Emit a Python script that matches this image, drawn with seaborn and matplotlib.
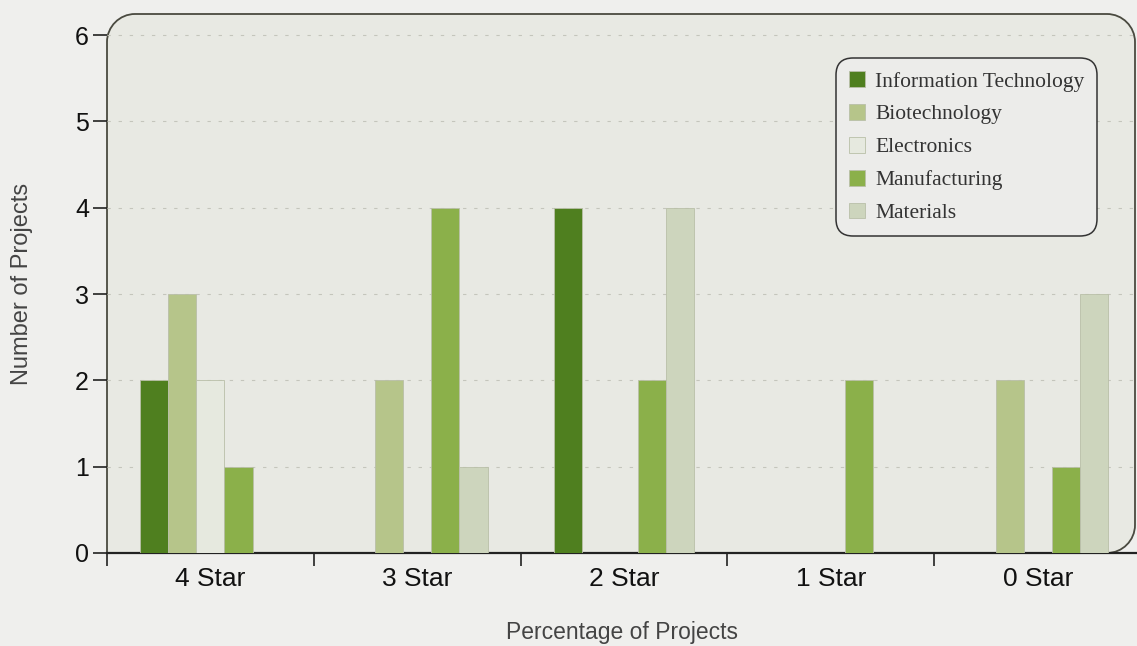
import matplotlib
matplotlib.use("Agg")
import matplotlib.pyplot as plt
from matplotlib.patches import PathPatch
from matplotlib.path import Path
from matplotlib.ticker import FixedLocator
import seaborn as sns
import pandas as pd

categories = ["4 Star", "3 Star", "2 Star", "1 Star", "0 Star"]
series = ["Information Technology", "Biotechnology", "Electronics", "Manufacturing", "Materials"]
it_vals = [2, 0, 4, 0, 0]
bio_vals = [3, 2, 0, 0, 2]
elec_vals = [2, 0, 0, 0, 0]
manu_vals = [1, 4, 2, 2, 1]
mat_vals = [0, 1, 4, 0, 3]
yticks = [0, 1, 2, 3, 4, 5, 6]

colors = ["#4f7f1f", "#b6c58a", "#e6e9df", "#8bb04a", "#cdd5bd"]

rows = []
for name, vals in zip(series, [it_vals, bio_vals, elec_vals, manu_vals, mat_vals]):
    for c, v in zip(categories, vals):
        rows.append({"Category": c, "Series": name, "Value": v})
df = pd.DataFrame(rows)

sns.set_theme(style="white")
plt.rcParams["font.family"] = ["Liberation Sans", "DejaVu Sans"]

W, H = 1137, 646
fig = plt.figure(figsize=(W / 100, H / 100), dpi=100, facecolor="#efefed")
ax = fig.add_axes([107 / W, 1 - 553 / H, 1030 / W, 539 / H])
ax.set_facecolor("none")

# plot-area panel: rounded top-left, top-right, bottom-right; square bottom-left
x0, x1 = 0.0, 1028 / 1030
y0, y1 = 0.0, 1.0
rx, ry = 28 / 1030, 28 / 539
k = 0.45
verts = [
    (x0, y0),
    (x1 - rx, y0),
    (x1 - rx * k, y0), (x1, y0 + ry * k), (x1, y0 + ry),
    (x1, y1 - ry),
    (x1, y1 - ry * k), (x1 - rx * k, y1), (x1 - rx, y1),
    (x0 + rx, y1),
    (x0 + rx * k, y1), (x0, y1 - ry * k), (x0, y1 - ry),
    (x0, y0),
    (x0, y0),
]
codes = [Path.MOVETO, Path.LINETO,
         Path.CURVE4, Path.CURVE4, Path.CURVE4,
         Path.LINETO,
         Path.CURVE4, Path.CURVE4, Path.CURVE4,
         Path.LINETO,
         Path.CURVE4, Path.CURVE4, Path.CURVE4,
         Path.LINETO, Path.CLOSEPOLY]
panel = PathPatch(Path(verts, codes), transform=ax.transAxes, facecolor="#e8e9e3",
                  edgecolor="#4a4a40", linewidth=1.3, zorder=0, clip_on=False)
ax.add_patch(panel)

sns.barplot(data=df, x="Category", y="Value", hue="Series", order=categories,
            hue_order=series, palette=colors, width=0.68, ax=ax,
            edgecolor="#b9bfa8", linewidth=0.6, zorder=3, saturation=1)

ax.set_ylim(0, 6.245)
ax.set_xlim(-0.5, 4.48)
ax.yaxis.set_major_locator(FixedLocator(yticks))
ax.set_yticklabels([str(t) for t in yticks])
ax.grid(axis="y", color="#c4c5bc", linestyle=(0, (3, 7)), linewidth=0.8, zorder=1)
ax.set_axisbelow(True)

ax.xaxis.set_minor_locator(FixedLocator([-0.5, 0.5, 1.5, 2.5, 3.5]))
ax.tick_params(axis="x", which="major", bottom=True, length=0, labelsize=19, pad=10,
               colors="#111111")
ax.tick_params(axis="x", which="minor", bottom=True, length=9, width=1.2, direction="out",
               color="#222222")
ax.tick_params(axis="y", which="major", left=True, length=10, width=1.2, direction="out",
               color="#222222", labelsize=18, pad=3, labelcolor="#111111")

for s in ["top", "right"]:
    ax.spines[s].set_visible(False)
ax.spines["left"].set_visible(False)
ax.spines["bottom"].set_color("#222222")
ax.spines["bottom"].set_linewidth(1.6)

ax.set_xlabel("Percentage of Projects", fontsize=16.5, color="#444444", labelpad=22)
ax.set_ylabel("Number of Projects", fontsize=17, color="#444444", labelpad=30)

leg = ax.legend(loc="upper left", bbox_to_anchor=(0.708, 0.918), frameon=True, fancybox=True,
                prop={"family": ["Liberation Serif", "DejaVu Serif"], "size": 15.5},
                handlelength=0.75, handleheight=0.75, labelspacing=0.58, borderpad=0.6,
                handletextpad=0.45, borderaxespad=0, title=None)
frame = leg.get_frame()
frame.set_boxstyle("round,pad=0,rounding_size=0.8")
frame.set_facecolor("#ececea")
frame.set_edgecolor("#333333")
frame.set_linewidth(1.1)
frame.set_alpha(1)
leg.set_zorder(5)
for t in leg.get_texts():
    t.set_color("#333333")

fig.savefig("out.png", dpi=100, facecolor=fig.get_facecolor())
